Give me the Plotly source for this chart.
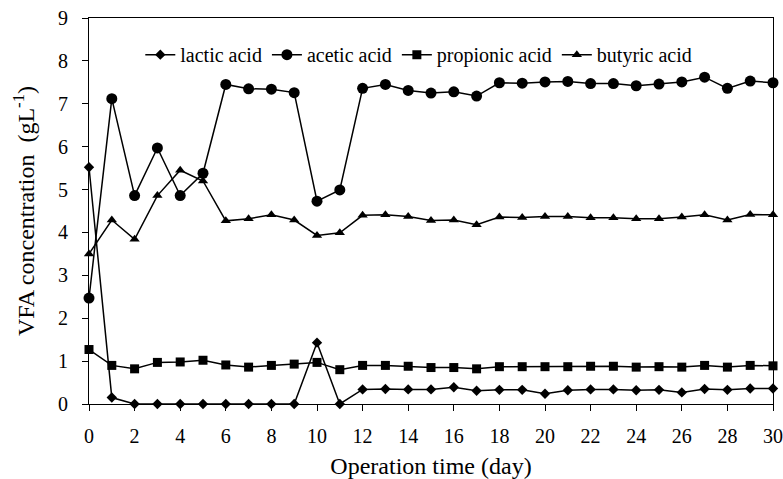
import plotly.graph_objects as go

days = list(range(31))
lactic = [5.52, 0.15, 0, 0, 0, 0, 0, 0, 0, 0, 1.43, 0, 0.34, 0.35, 0.34, 0.34, 0.39, 0.31, 0.33, 0.33,
          0.24, 0.32, 0.34, 0.34, 0.32, 0.33, 0.27, 0.35, 0.33, 0.36, 0.36]
acetic = [2.47, 7.12, 4.86, 5.97, 4.86, 5.38, 7.45, 7.35, 7.34, 7.26, 4.73, 4.99, 7.36, 7.45, 7.31, 7.25,
          7.28, 7.18, 7.49, 7.48, 7.51, 7.52, 7.47, 7.47, 7.42, 7.46, 7.51, 7.62, 7.36, 7.53, 7.49]
propionic = [1.27, 0.90, 0.82, 0.97, 0.98, 1.02, 0.91, 0.86, 0.90, 0.93, 0.97, 0.80, 0.90, 0.90, 0.88, 0.85,
             0.85, 0.82, 0.87, 0.87, 0.87, 0.87, 0.88, 0.88, 0.86, 0.87, 0.86, 0.90, 0.86, 0.90, 0.89]
butyric = [3.50, 4.29, 3.84, 4.86, 5.45, 5.20, 4.27, 4.32, 4.41, 4.29, 3.93, 3.99, 4.40, 4.41, 4.37, 4.28,
           4.29, 4.18, 4.36, 4.35, 4.37, 4.37, 4.34, 4.34, 4.32, 4.32, 4.36, 4.41, 4.29, 4.42, 4.41]

series = [
    ("lactic acid", lactic, "diamond", 8),
    ("acetic acid", acetic, "circle", 11),
    ("propionic acid", propionic, "square", 9),
    ("butyric acid", butyric, "triangle-up", 9),
]

fig = go.Figure()
for name, vals, sym, sz in series:
    fig.add_trace(go.Scatter(
        x=days, y=vals, name=name, mode="lines+markers",
        line=dict(color="black", width=1.5),
        marker=dict(symbol=sym, size=sz, color="black"),
        cliponaxis=False,
    ))

SERIF = "Times New Roman"
fig.update_layout(
    width=783, height=479,
    margin=dict(l=89, r=10, t=18, b=75),
    paper_bgcolor="white", plot_bgcolor="white",
    font=dict(family=SERIF, size=20, color="black"),
    showlegend=True,
    legend=dict(orientation="h", x=0.075, y=0.905, xanchor="left", yanchor="middle",
                bgcolor="rgba(0,0,0,0)", font=dict(family=SERIF, size=20, color="black"),
                tracegroupgap=0),
)
fig.update_xaxes(
    range=[0, 30], tickmode="linear", tick0=0, dtick=2,
    ticks="outside", ticklen=6, tickwidth=1.2, tickcolor="black",
    ticklabelstandoff=8, automargin=False,
    showline=True, linecolor="black", linewidth=1.2, mirror=True,
    showgrid=False, zeroline=False,
    title=dict(text="Operation time (day)", standoff=17),
)
fig.update_yaxes(
    range=[0, 9], tickmode="linear", tick0=0, dtick=1,
    ticks="outside", ticklen=6, tickwidth=1.2, tickcolor="black",
    ticklabelstandoff=10, automargin=False,
    showline=True, linecolor="black", linewidth=1.2, mirror=True,
    showgrid=False, zeroline=False,
    title=dict(text="VFA concentration  (gL<sup>-1</sup>)", standoff=16),
)
fig.write_html("out.html", config={"displayModeBar": False},
               post_script="document.body.style.margin='0';")
